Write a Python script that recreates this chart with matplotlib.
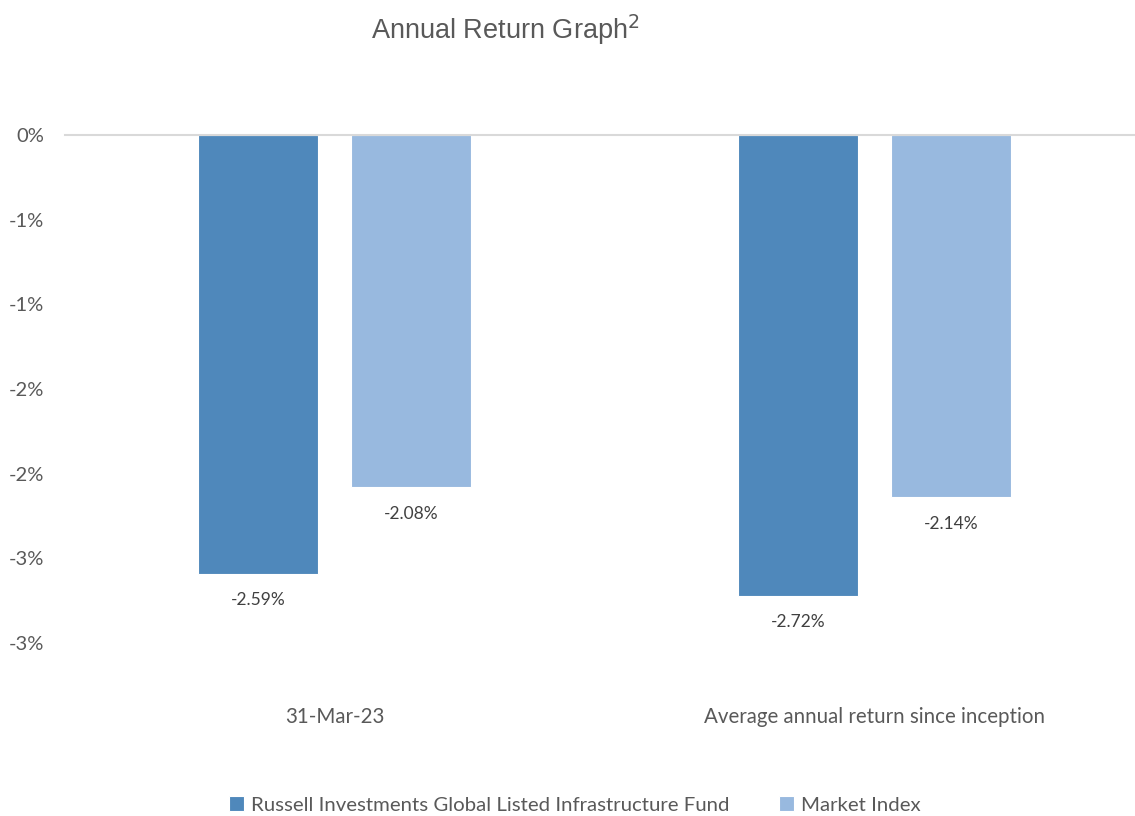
import matplotlib
matplotlib.use("Agg")
import matplotlib.pyplot as plt
import numpy as np

# Data
categories = ["31-Mar-23", "Average annual return since inception"]
fund = [-2.59, -2.72]
index = [-2.08, -2.14]
series_names = ["Russell Investments Global Listed Infrastructure Fund", "Market Index"]
ytick_vals = [0, -0.5, -1.0, -1.5, -2.0, -2.5, -3.0]
ytick_labels = ["0%", "-1%", "-1%", "-2%", "-2%", "-3%", "-3%"]

dark = "#4F88BB"
light = "#98B9DF"
grey = "#595959"

plt.rcParams['font.family'] = ['Lato', 'DejaVu Sans']

fig = plt.figure(figsize=(11.35, 8.16), dpi=100)
W, H = 1135, 816
ax = fig.add_axes([65 / W, 1 - 643 / H, 1079 / W, (643 - 135) / H])

x = np.arange(len(categories))
w = 0.2224
off = 0.1418
b1 = ax.bar(x - off, fund, w, color=dark, edgecolor="white", linewidth=0.8, label=series_names[0])
b2 = ax.bar(x + off, index, w, color=light, edgecolor="white", linewidth=0.8, label=series_names[1])

# value labels under each bar
for bars, vals in [(b1, fund), (b2, index)]:
    for r, v in zip(bars, vals):
        ax.annotate(f"{v:.2f}%", (r.get_x() + r.get_width() / 2, v),
                    xytext=(0, -19), textcoords="offset points",
                    ha="center", va="center", fontsize=12.5, color="#404040")

ax.set_xlim(-0.5, 1.5)
ax.set_ylim(-3.0, 0)
ax.set_yticks(ytick_vals)
ax.set_yticklabels(ytick_labels)
ax.set_xticks(x)
ax.set_xticklabels(categories)
ax.tick_params(axis="y", length=0, pad=15, labelsize=14.5, labelcolor=grey)
ax.tick_params(axis="x", length=0, pad=46, labelsize=14.8, labelcolor=grey)
for s in ["left", "right", "bottom"]:
    ax.spines[s].set_visible(False)
ax.spines["top"].set_color("#D9D9D9")
ax.spines["top"].set_linewidth(1.5)

fig.text(505 / W, 1 - 30 / H, "Annual Return Graph$^2$", ha="center", va="center",
         fontsize=19.5, color=grey, family=["Liberation Sans", "DejaVu Sans"])

fig.legend(handles=[b1, b2], labels=series_names, loc="center",
           bbox_to_anchor=(575 / W, 1 - 805 / H), ncol=2, frameon=False,
           fontsize=14.7, labelcolor=grey, handlelength=0.75, handleheight=0.75,
           handletextpad=0.35, columnspacing=2.4)

fig.savefig("out.png", dpi=100)
